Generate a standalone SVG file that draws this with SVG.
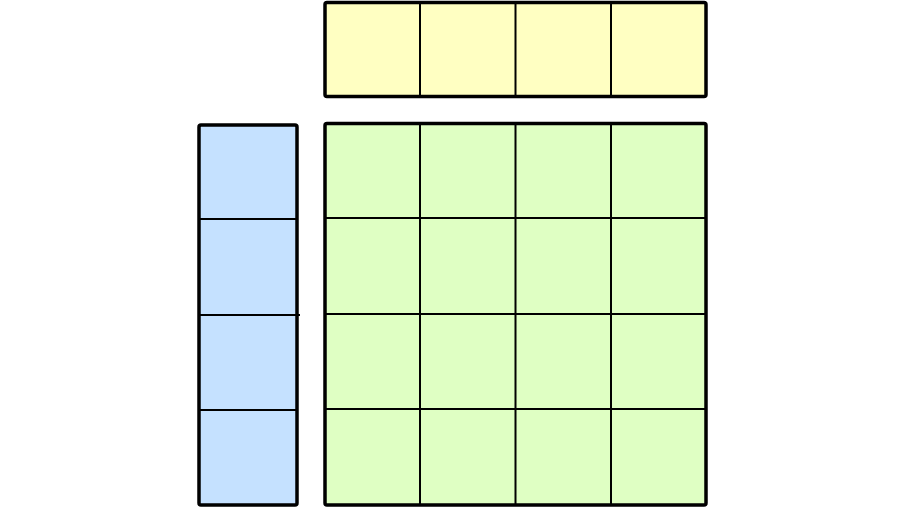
<svg xmlns="http://www.w3.org/2000/svg" width="903" height="508" viewBox="0 0 903 508">
<style>
.outer{stroke:#000;stroke-width:3.5;stroke-linejoin:round}
.inner{stroke:#000;stroke-width:2;fill:none}
</style>
<rect width="903" height="508" fill="#fff"/>
<g id="top-row">
<rect class="outer" x="325" y="2.5" width="381" height="94" rx="2" fill="#ffffc2"/>
<path class="inner" d="M420,2.5V96.5M515.5,2.5V96.5M611,2.5V96.5"/>
</g>
<g id="left-column">
<rect class="outer" x="199" y="125" width="98" height="380" rx="2" fill="#c5e1ff"/>
<path class="inner" d="M199,219H297M199,315H300M199,410H297"/>
</g>
<g id="grid">
<rect class="outer" x="325" y="123.5" width="381" height="381.5" rx="2" fill="#dfffc3"/>
<path class="inner" d="M420,123.5V505M515.5,123.5V505M611,123.5V505M325,218H706M325,314H706M325,409H706"/>
</g>
<g id="connectors"/>
</svg>
